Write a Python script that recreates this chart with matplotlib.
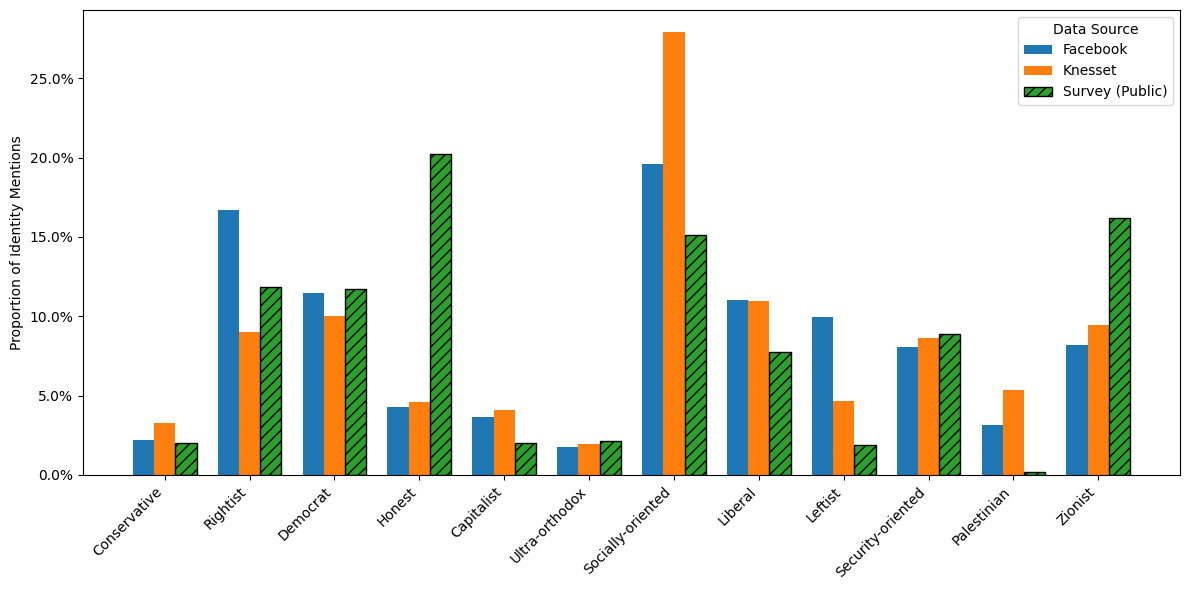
import matplotlib
matplotlib.use("Agg")
import matplotlib.pyplot as plt
import numpy as np
from matplotlib.ticker import PercentFormatter

categories = ["Conservative", "Rightist", "Democrat", "Honest", "Capitalist", "Ultra-orthodox",
              "Socially-oriented", "Liberal", "Leftist", "Security-oriented", "Palestinian", "Zionist"]
facebook = [2.2, 16.7, 11.46, 4.28, 3.65, 1.76, 19.58, 11.0, 9.95, 8.06, 3.15, 8.19]
knesset = [3.27, 9.0, 10.0, 4.6, 4.1, 1.95, 27.9, 10.96, 4.66, 8.63, 5.35, 9.45]
survey = [2.0, 11.84, 11.7, 20.2, 2.0, 2.14, 15.1, 7.75, 1.9, 8.88, 0.2, 16.18]

fig, ax = plt.subplots(figsize=(11.89, 5.9), dpi=100)
x = np.arange(len(categories))
w = 0.25
ax.bar(x - w, facebook, w, color="#1f77b4", label="Facebook")
ax.bar(x, knesset, w, color="#ff7f0e", label="Knesset")
ax.bar(x + w, survey, w, color="#2ca02c", edgecolor="black", hatch="///", label="Survey (Public)")
ax.set_xticks(x)
ax.set_xticklabels(categories, rotation=45, ha="right")
ax.yaxis.set_major_formatter(PercentFormatter(decimals=1))
ax.set_ylabel("Proportion of Identity Mentions")
ax.legend(title="Data Source", loc="upper right")
fig.subplots_adjust(left=83/1189, right=1180/1189, top=1-10/590, bottom=1-475/590)
fig.savefig("out.png")
